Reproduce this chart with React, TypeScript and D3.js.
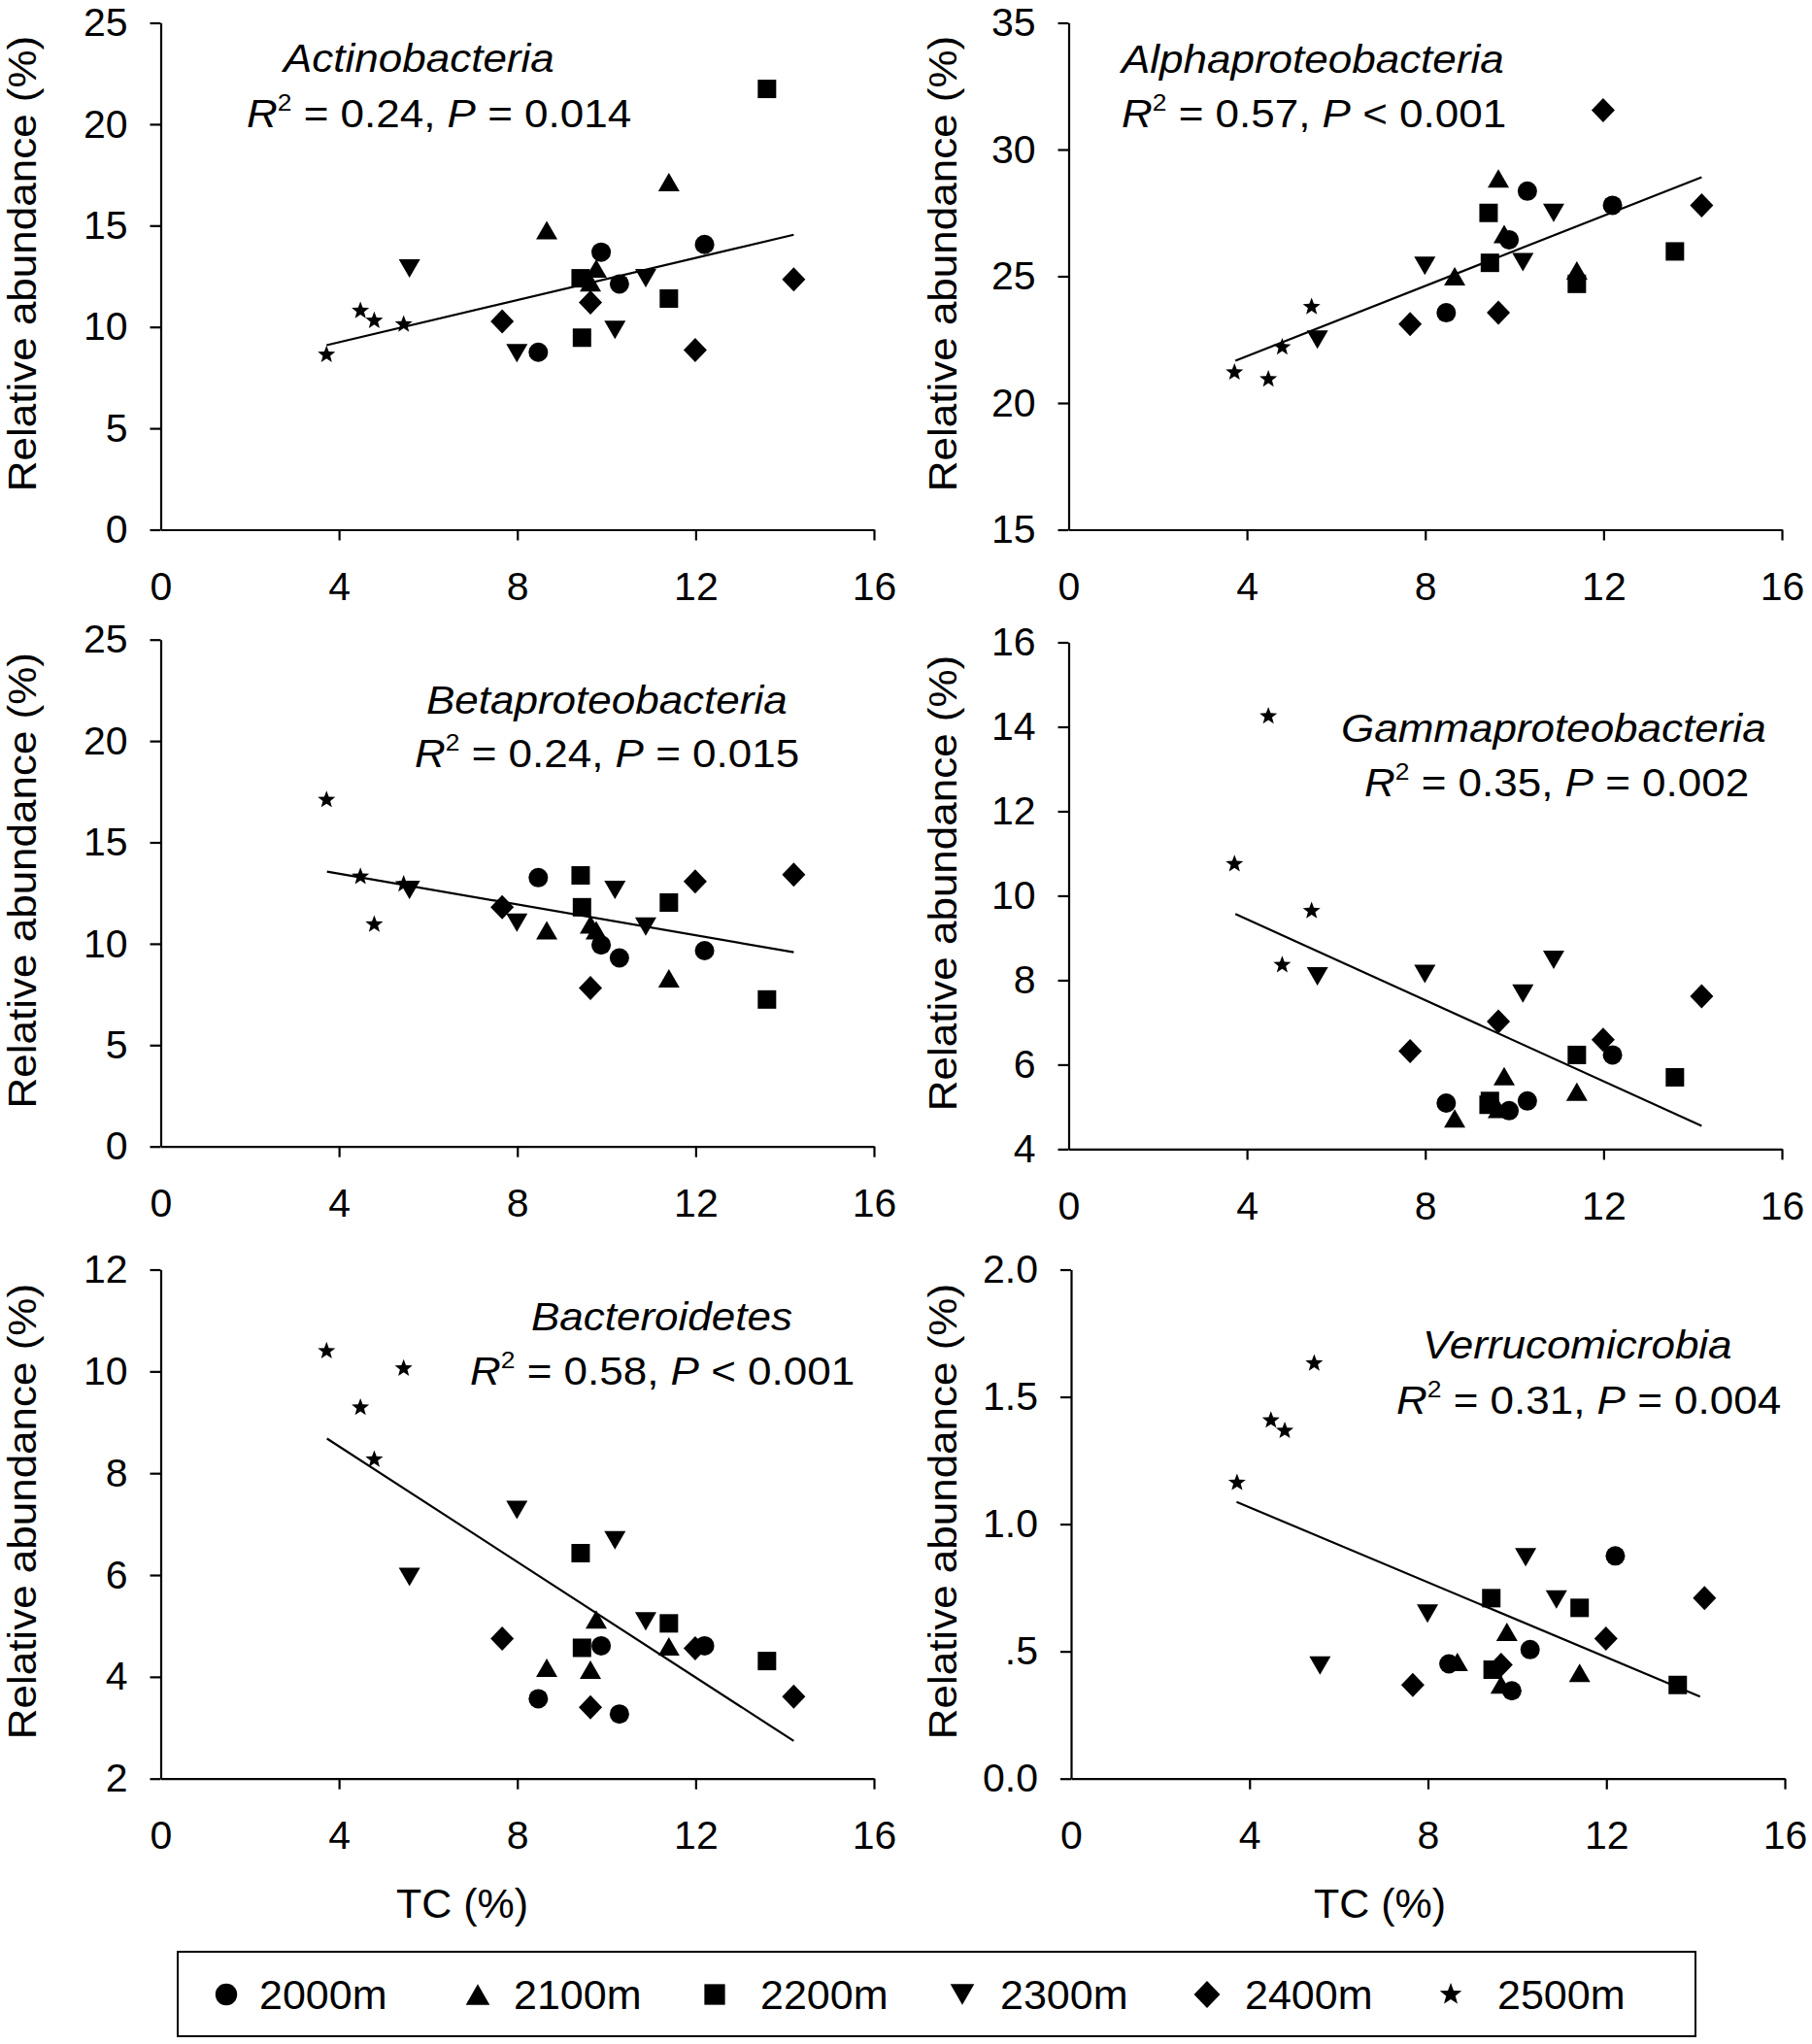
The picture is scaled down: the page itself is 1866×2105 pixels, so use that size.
import React, { useEffect, useRef } from 'react';
import * as d3 from 'd3';

// Sampling depths and the marker used for each
const depths = ['2000m', '2100m', '2200m', '2300m', '2400m', '2500m'];
const shapes = ['circle', 'triangle', 'square', 'triangleDown', 'diamond', 'star'];

// TC (%) of the four plots at each depth
const tcByDepth = [
  [8.47, 9.88, 10.29, 12.2],
  [8.66, 9.64, 9.77, 11.4],
  [9.42, 9.45, 11.4, 13.6],
  [5.58, 7.99, 10.19, 10.88],
  [7.66, 9.64, 11.99, 14.2],
  [3.72, 4.48, 4.79, 5.45],
];

// Relative abundance (%) per depth, same order as tcByDepth
const actinoY = [
  [8.75, 13.69, 12.12, 14.07],
  [14.77, 12.2, 12.88, 17.14],
  [12.4, 9.47, 11.4, 21.74],
  [12.88, 8.71, 9.85, 12.4],
  [10.27, 11.21, 8.86, 12.35],
  [8.63, 10.8, 10.31, 10.13],
];
const alphaY = [
  [23.56, 26.44, 28.36, 27.8],
  [25.0, 28.86, 26.67, 25.23],
  [27.5, 25.53, 24.7, 25.98],
  [22.5, 25.41, 25.56, 27.5],
  [23.11, 23.56, 31.55, 27.8],
  [21.21, 20.94, 22.2, 23.79],
];
const betaY = [
  [13.26, 9.94, 9.3, 9.66],
  [10.66, 10.95, 10.66, 8.3],
  [13.37, 11.8, 12.03, 7.25],
  [12.65, 11.04, 12.65, 10.85],
  [11.8, 7.82, 13.07, 13.41],
  [17.1, 13.31, 10.95, 12.94],
];
const gammaY = [
  [5.09, 4.91, 5.14, 6.23],
  [4.73, 4.95, 5.73, 5.36],
  [5.05, 5.14, 6.23, 5.7],
  [8.09, 8.15, 7.68, 8.48],
  [6.32, 7.02, 6.59, 7.62],
  [10.75, 14.25, 8.36, 9.64],
];
const bacteroY = [
  [3.57, 4.61, 3.27, 4.61],
  [4.18, 4.14, 5.13, 4.6],
  [6.43, 4.57, 5.05, 4.31],
  [5.96, 7.28, 6.68, 5.09],
  [4.75, 3.4, 4.56, 3.61],
  [10.4, 9.29, 8.27, 10.06],
];
const verrucoY = [
  [0.451, 0.345, 0.507, 0.875],
  [0.459, 0.37, 0.577, 0.416],
  [0.709, 0.428, 0.671, 0.368],
  [0.444, 0.648, 0.87, 0.704],
  [0.368, 0.447, 0.55, 0.709],
  [1.163, 1.408, 1.367, 1.632],
];

// Regression line end points [tc1, y1, tc2, y2]
const fitLines = [
  [3.72, 9.1, 14.2, 14.55],
  [3.74, 21.67, 14.2, 28.91],
  [3.73, 13.56, 14.2, 9.58],
  [3.74, 9.57, 14.2, 4.55],
  [3.73, 8.68, 14.2, 2.74],
  [3.71, 1.087, 14.1, 0.322],
];

const taxa = ['Actinobacteria', 'Alphaproteobacteria', 'Betaproteobacteria', 'Gammaproteobacteria', 'Bacteroidetes', 'Verrucomicrobia'];
const r2Values = ['0.24', '0.57', '0.24', '0.35', '0.58', '0.31'];
const pValues = ['= 0.014', '< 0.001', '= 0.015', '= 0.002', '< 0.001', '= 0.004'];

const yDomains = [[0, 25], [15, 35], [0, 25], [4, 16], [2, 12], [0, 2]];
const yTicks = [
  [0, 5, 10, 15, 20, 25],
  [15, 20, 25, 30, 35],
  [0, 5, 10, 15, 20, 25],
  [4, 6, 8, 10, 12, 14, 16],
  [2, 4, 6, 8, 10, 12],
  [0, 0.5, 1, 1.5, 2],
];
const verrucoTickLabels = ['0.0', '.5', '1.0', '1.5', '2.0'];
const xTicks = [0, 4, 8, 12, 16];

const panelValues = [actinoY, alphaY, betaY, gammaY, bacteroY, verrucoY];

// where each panel sits on the page
const layout = [
  { x0: 165.5, x1: 900, yt: 23.5, yb: 545.5, titleX: 292, titleY: 74, statX: 254, statY: 130.5, axisTitleX: 37 },
  { x0: 1100.5, x1: 1835, yt: 23.5, yb: 545.5, titleX: 1155, titleY: 75, statX: 1155, statY: 130.5, axisTitleX: 985 },
  { x0: 165.5, x1: 900, yt: 658.7, yb: 1180.7, titleX: 439, titleY: 734.7, statX: 427, statY: 790, axisTitleX: 37 },
  { x0: 1100.5, x1: 1835, yt: 661.5, yb: 1183.4, titleX: 1381, titleY: 764.3, statX: 1405, statY: 819.7, axisTitleX: 985 },
  { x0: 165.5, x1: 900, yt: 1307.5, yb: 1831.7, titleX: 547, titleY: 1370, statX: 484, statY: 1426, axisTitleX: 37 },
  { x0: 1103, x1: 1838, yt: 1307.5, yb: 1831.7, titleX: 1465, titleY: 1398.6, statX: 1438, statY: 1456, axisTitleX: 985 },
];

const FONT = '"Liberation Sans", Arial, Helvetica, sans-serif';
const W = 1866;
const H = 2105;

const markerPath = (shape: string, k = 1): string => {
  if (shape === 'circle') {
    const r = 10 * k;
    return `M${-r},0A${r},${r} 0 1,0 ${r},0A${r},${r} 0 1,0 ${-r},0Z`;
  }
  if (shape === 'square') {
    const h = 9.5 * k;
    return `M${-h},${-h}H${h}V${h}H${-h}Z`;
  }
  if (shape === 'triangle') {
    const w = 11 * k, h = 9.5 * k;
    return `M0,${-h}L${w},${h}L${-w},${h}Z`;
  }
  if (shape === 'triangleDown') {
    const w = 11 * k, h = 9.5 * k;
    return `M0,${h}L${w},${-h}L${-w},${-h}Z`;
  }
  if (shape === 'diamond') {
    const a = 12.5 * k, b = 12 * k;
    return `M0,${-a}L${b},0L0,${a}L${-b},0Z`;
  }
  // star
  const R = 9.5 * k, r = 4 * k;
  const pts = d3.range(10).map(i => {
    const ang = -Math.PI / 2 + (i * Math.PI) / 5;
    const rad = i % 2 === 0 ? R : r;
    return [rad * Math.cos(ang), rad * Math.sin(ang)];
  });
  return 'M' + pts.map(p => `${p[0].toFixed(2)},${p[1].toFixed(2)}`).join('L') + 'Z';
};

const App: React.FC = () => {
  const svgRef = useRef<SVGSVGElement>(null);

  useEffect(() => {
    document.body.style.margin = '0';
    const svg = d3.select(svgRef.current);
    svg.selectAll('*').remove();

    svg.append('rect').attr('width', W).attr('height', H).attr('fill', '#fff');

    panelValues.forEach((vals, i) => {
      const L = layout[i];
      const x = d3.scaleLinear().domain([0, 16]).range([L.x0, L.x1]);
      const y = d3.scaleLinear().domain(yDomains[i]).range([L.yb, L.yt]);
      const g = svg.append('g');

      // x axis
      const gx = g.append('g')
        .attr('transform', `translate(0,${L.yb})`)
        .call(
          d3.axisBottom(x)
            .tickValues(xTicks)
            .tickSize(11)
            .tickSizeOuter(0)
            .tickPadding(32)
            .tickFormat(d => String(d))
        );
      gx.selectAll('.tick').filter(d => d === 0).select('line').remove();

      // y axis
      const gy = g.append('g')
        .attr('transform', `translate(${L.x0},0)`)
        .call(
          d3.axisLeft(y)
            .tickValues(yTicks[i])
            .tickSize(11)
            .tickSizeOuter(0)
            .tickPadding(23)
            .tickFormat((d, j) => (i === 5 ? verrucoTickLabels[j] : String(d)))
        );

      [gx, gy].forEach(ax => {
        ax.attr('font-family', FONT).attr('font-size', 41);
        ax.select('.domain').attr('stroke', '#000').attr('stroke-width', 2.2);
        ax.selectAll('.tick line').attr('stroke', '#000').attr('stroke-width', 2.2);
        ax.selectAll('.tick text').attr('fill', '#000');
      });

      // y axis title
      g.append('text')
        .attr('transform', `translate(${L.axisTitleX},${(L.yt + L.yb) / 2 - 13}) rotate(-90) scale(1.1,1)`)
        .attr('text-anchor', 'middle')
        .attr('font-family', FONT)
        .attr('font-size', 40)
        .attr('fill', '#000')
        .text('Relative abundance (%)');

      // regression line
      const f = fitLines[i];
      g.append('line')
        .attr('x1', x(f[0]))
        .attr('y1', y(f[1]))
        .attr('x2', x(f[2]))
        .attr('y2', y(f[3]))
        .attr('stroke', '#000')
        .attr('stroke-width', 2.2);

      // points
      vals.forEach((grp, d) => {
        g.append('g')
          .selectAll('path')
          .data(grp.map((v, j) => ({ tc: tcByDepth[d][j], v })))
          .enter()
          .append('path')
          .attr('transform', p => `translate(${x(p.tc)},${y(p.v)})`)
          .attr('d', markerPath(shapes[d]))
          .attr('fill', '#000');
      });

      // taxon name
      g.append('text')
        .attr('transform', `translate(${L.titleX},${L.titleY}) scale(1.1,1)`)
        .attr('font-family', FONT)
        .attr('font-size', 40)
        .attr('font-style', 'italic')
        .attr('fill', '#000')
        .text(taxa[i]);

      // statistics line
      const st = g.append('text')
        .attr('transform', `translate(${L.statX},${L.statY}) scale(1.1,1)`)
        .attr('font-family', FONT)
        .attr('font-size', 40)
        .attr('fill', '#000')
        .style('white-space', 'pre');
      st.append('tspan').attr('font-style', 'italic').text('R');
      st.append('tspan').attr('font-size', 24).attr('dy', -17).text('2');
      st.append('tspan').attr('dy', 17).text(` = ${r2Values[i]}, `);
      st.append('tspan').attr('font-style', 'italic').text('P');
      st.append('tspan').text(` ${pValues[i]}`);
    });

    // x axis titles
    [408, 1353].forEach(tx => {
      svg.append('text')
        .attr('x', tx)
        .attr('y', 1975)
        .attr('font-family', FONT)
        .attr('font-size', 43)
        .attr('fill', '#000')
        .text('TC (%)');
    });

    // legend
    const legend = svg.append('g');
    legend.append('rect')
      .attr('x', 183)
      .attr('y', 2010)
      .attr('width', 1563)
      .attr('height', 87)
      .attr('fill', 'none')
      .attr('stroke', '#000')
      .attr('stroke-width', 2);

    const legendMarkX = [233, 492, 736, 991, 1243, 1494];
    const legendTextX = [267, 529, 783, 1030, 1282, 1542];
    depths.forEach((dep, d) => {
      legend.append('path')
        .attr('transform', `translate(${legendMarkX[d]},2054)`)
        .attr('d', markerPath(shapes[d], shapes[d] === 'star' ? 1.25 : 1.12))
        .attr('fill', '#000');
      legend.append('text')
        .attr('x', legendTextX[d])
        .attr('y', 2069)
        .attr('font-family', FONT)
        .attr('font-size', 43)
        .attr('fill', '#000')
        .text(dep);
    });
  }, []);

  return (
    <svg
      ref={svgRef}
      width={W}
      height={H}
      viewBox={`0 0 ${W} ${H}`}
      style={{ display: 'block' }}
    />
  );
};

export default App;
